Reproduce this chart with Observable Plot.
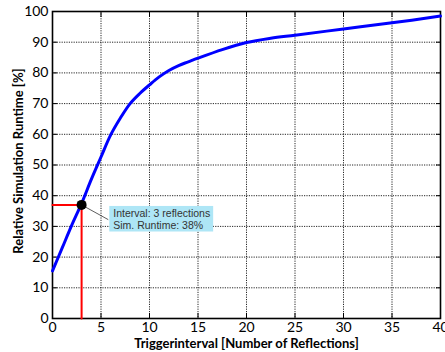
<!DOCTYPE html>
<html>
<head>
<meta charset="utf-8">
<script src="https://cdn.jsdelivr.net/npm/d3@7"></script>
<script src="https://cdn.jsdelivr.net/npm/@observablehq/plot@0.6"></script>
<style>
  html, body { margin: 0; padding: 0; background: #fff; }
  #chart { width: 445px; height: 352px; }
</style>
</head>
<body>
<div id="chart"></div>
<script>
const intervals = [0,1,2,3,4,5,6,7,8,9,10,11,12,13,14,15,17.5,20,22.5,25,30,35,40];
const runtimes  = [15.5,23,30.5,37.5,45.3,52.6,59.8,65.3,70,73.3,76.1,78.7,80.8,82.4,83.6,84.8,87.6,89.9,91.3,92.3,94.3,96.3,98.5];
const xTicks = [0,5,10,15,20,25,30,35,40];
const yTicks = [0,10,20,30,40,50,60,70,80,90,100];
const markX = 3;
const markY = 37;
const noteLines = ["Interval: 3 reflections", "Sim. Runtime: 38%"];
const xLabel = "Triggerinterval [Number of Reflections]";
const yLabel = "Relative Simulation Runtime [%]";

const curve = intervals.map((x, i) => ({x, y: runtimes[i]}));
const font = "Lato, 'Open Sans', 'DejaVu Sans', sans-serif";

const plot = Plot.plot({
  width: 445,
  height: 352,
  marginLeft: 52,
  marginRight: 5,
  marginTop: 11,
  marginBottom: 34,
  style: {fontFamily: font, fontSize: "13px", color: "#000", background: "#fff"},
  x: {domain: [0, 40]},
  y: {domain: [0, 100]},
  marks: [
    Plot.ruleX(xTicks, {stroke: "#000", strokeWidth: 1, strokeDasharray: "1.2,1.2", strokeOpacity: 0.85}),
    Plot.ruleY(yTicks, {stroke: "#000", strokeWidth: 1, strokeDasharray: "1.2,1.2", strokeOpacity: 0.85}),
    Plot.axisX(xTicks, {anchor: "bottom", tickSize: -5, tickPadding: 9, label: null, fontSize: 14}),
    Plot.axisX(xTicks, {anchor: "top", tickSize: -5, label: null, tickFormat: () => ""}),
    Plot.axisY(yTicks, {anchor: "left", tickSize: -5, tickPadding: 9, label: null, fontSize: 14}),
    Plot.axisY(yTicks, {anchor: "right", tickSize: -5, label: null, tickFormat: () => ""}),
    Plot.frame({stroke: "#000", strokeWidth: 1.6}),
    Plot.line([{x: markX, y: 0}, {x: markX, y: markY}], {x: "x", y: "y", stroke: "#ff0000", strokeWidth: 2}),
    Plot.line([{x: 0, y: markY}, {x: markX, y: markY}], {x: "x", y: "y", stroke: "#ff0000", strokeWidth: 2}),
    Plot.line(curve, {x: "x", y: "y", stroke: "#0000ff", strokeWidth: 3, curve: "catmull-rom"}),
    Plot.link([{x1: markX, y1: markY, x2: markX + 2.75, y2: markY - 4.8}], {x1: "x1", y1: "y1", x2: "x2", y2: "y2", stroke: "#333", strokeWidth: 0.8}),
    Plot.dot([{x: markX, y: markY}], {x: "x", y: "y", r: 5, fill: "#000"}),
    Plot.text([{x: markX + 2.75, y: markY - 4.6}], {
      x: "x", y: "y", text: () => noteLines.join("\n"),
      textAnchor: "start", dx: 5, lineHeight: 1.1,
      fontFamily: "'Liberation Sans', Arial, sans-serif", fontSize: 10.5, fill: "#333"
    }),
    Plot.text([xLabel], {frameAnchor: "bottom", dy: 29, fontWeight: "bold", fontSize: 13, text: d => d}),
    Plot.text([yLabel], {frameAnchor: "left", textAnchor: "middle", dx: -34, dy: -4, rotate: -90, fontWeight: "bold", fontSize: 13, text: d => d})
  ]
});

document.getElementById("chart").appendChild(plot);
// light-blue box behind the annotation text
d3.select(plot).selectAll("text").filter(function() { return this.textContent.startsWith("Interval"); })
  .each(function() {
    const bb = this.getBBox();
    d3.select(this.parentNode).insert("rect", () => this)
      .attr("transform", this.getAttribute("transform"))
      .attr("x", bb.x - 4).attr("y", bb.y - 1)
      .attr("width", bb.width + 7).attr("height", bb.height + 2)
      .attr("fill", "#aee6f6");
  });
</script>
</body>
</html>
